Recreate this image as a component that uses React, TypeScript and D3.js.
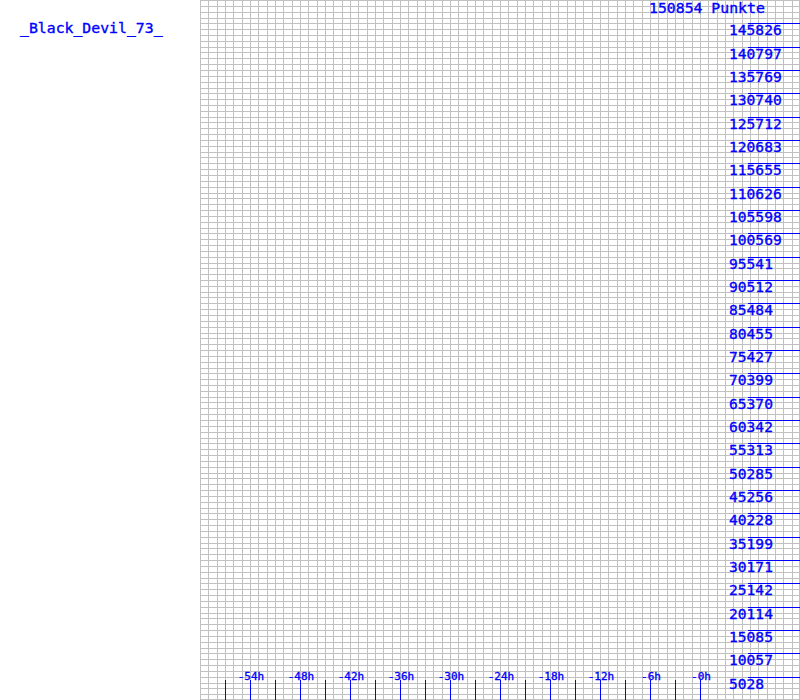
import React from "react";
import * as d3 from "d3";

const playerName = "_Black_Devil_73_";
const totalPoints = 150854;
const unitLabel = "Punkte";
const yTickValues = [
  145826, 140797, 135769, 130740, 125712, 120683, 115655, 110626, 105598,
  100569, 95541, 90512, 85484, 80455, 75427, 70399, 65370, 60342, 55313,
  50285, 45256, 40228, 35199, 30171, 25142, 20114, 15085, 10057, 5028,
];
const hourTickValues = [
  -57, -54, -51, -48, -45, -42, -39, -36, -33, -30, -27, -24, -21, -18, -15,
  -12, -9, -6, -3, 0,
];
const hourLabelValues = [-54, -48, -42, -36, -30, -24, -18, -12, -6, 0];
const hourLabelTexts = ["-54h", "-48h", "-42h", "-36h", "-30h", "-24h", "-18h", "-12h", "-6h", "-0h"];

const W = 800;
const H = 700;
const BLUE = "#0000ff";
const GRID = "#c0c0c0";
const FONT = "'DejaVu Sans Mono', 'Liberation Mono', monospace";

export default function App() {
  const x = d3.scaleLinear().domain([-60, 12]).range([200, 800]);
  const y = d3.scaleLinear().domain([0, totalPoints]).range([H, 0]);

  const gridX = d3.range(-60, 12.001, 1);
  const gridY = d3.range(0, 121).map((i) => (totalPoints * i) / 120);
  const px = (v: number, max: number) => Math.min(Math.round(v), max);

  return (
    <svg
      width={W}
      height={H}
      style={{ position: "fixed", left: 0, top: 0, background: "#fff" }}
      shapeRendering="crispEdges"
    >
      <rect x={0} y={0} width={W} height={H} fill="#fff" />
      <g fill={GRID}>
        {gridX.map((h, i) => (
          <rect key={"gx" + i} x={px(x(h), 799)} y={0} width={1} height={H} />
        ))}
        {gridY.map((v, i) => (
          <rect key={"gy" + i} x={200} y={px(y(v), 699)} width={W - 200} height={1} />
        ))}
      </g>
      <g fill={BLUE}>
        {yTickValues.map((v) => (
          <rect key={"yt" + v} x={748} y={px(y(v), 699)} width={W - 748} height={1} />
        ))}
        {hourTickValues.map((h) => (
          <rect key={"ht" + h} x={px(x(h), 799)} y={680} width={1} height={H - 680} />
        ))}
      </g>
      <g fill={BLUE} stroke={BLUE} strokeWidth={0.35} fontFamily={FONT}>
        {yTickValues.map((v) => (
          <text key={"yl" + v} x={729} y={y(v) + 12} fontSize={14.6}>
            {v}
          </text>
        ))}
        {hourLabelValues.map((h, i) => (
          <text key={"hl" + h} x={x(h) + 1} y={680} fontSize={11} textAnchor="middle">
            {hourLabelTexts[i]}
          </text>
        ))}
        <text x={649} y={12.5} fontSize={14.8}>
          {totalPoints + " " + unitLabel}
        </text>
        <text x={20} y={33} fontSize={14.8}>
          {playerName}
        </text>
      </g>
    </svg>
  );
}
